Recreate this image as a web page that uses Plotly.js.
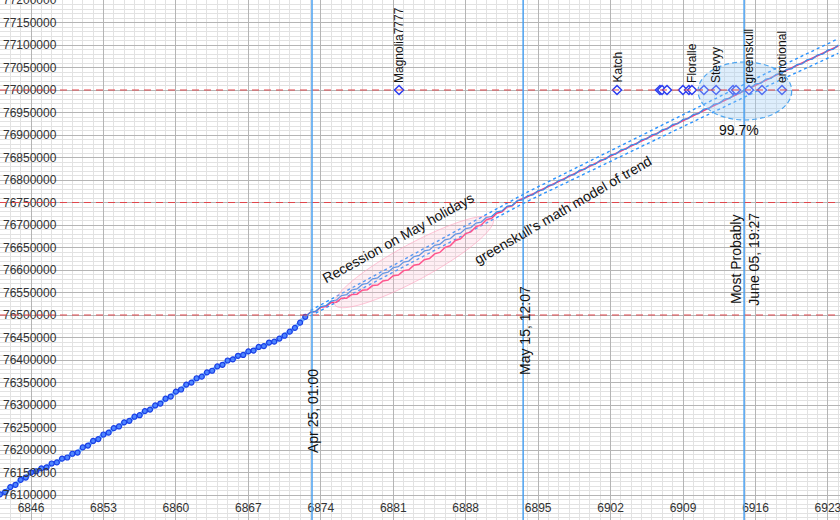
<!DOCTYPE html>
<html><head><meta charset="utf-8">
<script src="https://cdn.plot.ly/plotly-3.0.1.min.js"></script>
<style>html,body{margin:0;padding:0;background:#fff}#chart{width:840px;height:520px}</style>
</head><body><div id="chart"></div>
<script>
// ---------- data ----------
const xTicks = [6846, 6853, 6860, 6867, 6874, 6881, 6888, 6895, 6902, 6909, 6916, 6923];
const yTicks = [76100000, 76150000, 76200000, 76250000, 76300000, 76350000, 76400000, 76450000,
  76500000, 76550000, 76600000, 76650000, 76700000, 76750000, 76800000, 76850000, 76900000,
  76950000, 77000000, 77050000, 77100000, 77150000, 77200000];

const histX = [6843.0, 6843.5, 6844.0, 6844.5, 6845.0, 6845.5, 6846.0, 6846.5, 6847.0, 6847.5,
  6848.0, 6848.5, 6849.0, 6849.5, 6850.0, 6850.5, 6851.0, 6851.5, 6852.0, 6852.5,
  6853.0, 6853.5, 6854.0, 6854.5, 6855.0, 6855.5, 6856.0, 6856.5, 6857.0, 6857.5,
  6858.0, 6858.5, 6859.0, 6859.5, 6860.0, 6860.5, 6861.0, 6861.5, 6862.0, 6862.5,
  6863.0, 6863.5, 6864.0, 6864.5, 6865.0, 6865.5, 6866.0, 6866.5, 6867.0, 6867.5,
  6868.0, 6868.5, 6869.0, 6869.5, 6870.0, 6870.5, 6871.0, 6871.5, 6872.0, 6872.5];
const histY = [76101500, 76106600, 76117600, 76122700, 76133800, 76138800, 76149900, 76152800, 76159100, 76161500,
  76170000, 76172400, 76180800, 76183300, 76191700, 76194200, 76205800, 76209900, 76220100, 76224200,
  76234400, 76238500, 76248600, 76252300, 76261500, 76264800, 76274000, 76277300, 76286500, 76289800,
  76299000, 76303200, 76314000, 76318800, 76329600, 76334400, 76345300, 76349800, 76359400, 76363000,
  76372600, 76376100, 76385700, 76389300, 76398900, 76401400, 76409300, 76411200, 76419100, 76421000,
  76429000, 76430900, 76438800, 76440700, 76447500, 76454000, 76463000, 76471500, 76483000, 76496000];

const modelX = [6872.5, 6873, 6873.5, 6874, 6874.5, 6875, 6875.5, 6876, 6876.5, 6877, 6877.5,
  6878, 6878.5, 6879, 6879.5, 6880, 6880.5, 6881, 6881.5, 6882, 6882.5, 6883, 6883.5,
  6884, 6884.5, 6885, 6885.5, 6886, 6886.5, 6887, 6887.5, 6888, 6888.5, 6889, 6889.5,
  6890, 6890.5, 6891, 6891.5, 6892, 6892.5, 6893, 6893.5, 6894, 6894.5, 6895, 6895.5,
  6896, 6896.5, 6897, 6897.5, 6898, 6898.5, 6899, 6899.5, 6900, 6900.5, 6901, 6901.5,
  6902, 6902.5, 6903, 6903.5, 6904, 6904.5, 6905, 6905.5, 6906, 6906.5, 6907, 6907.5,
  6908, 6908.5, 6909, 6909.5, 6910, 6910.5, 6911, 6911.5, 6912, 6912.5, 6913, 6913.5,
  6914, 6914.5, 6915, 6915.5, 6916, 6916.5, 6917, 6917.5, 6918, 6918.5, 6919, 6919.5,
  6920, 6920.5, 6921, 6921.5, 6922, 6922.5, 6923, 6923.5, 6924];
const modelY = [76496000, 76506000, 76508200, 76518400, 76520600, 76530800, 76533000, 76543200, 76545400, 76555600, 76557800,
  76568000, 76570200, 76580400, 76582600, 76592800, 76595000, 76605200, 76607400, 76617600, 76619800, 76630000, 76632200,
  76642400, 76644600, 76654800, 76657000, 76667200, 76669400, 76679600, 76681800, 76692000, 76694200, 76704400, 76706600,
  76716800, 76719000, 76729200, 76731400, 76741600, 76743800, 76754000, 76755600, 76765300, 76767000, 76776600, 76778200,
  76787900, 76789500, 76799200, 76800800, 76810500, 76812100, 76821800, 76823400, 76833100, 76834700, 76844400, 76846000,
  76855700, 76857300, 76867000, 76868600, 76878300, 76879900, 76889600, 76891200, 76900900, 76902500, 76912200, 76913800,
  76923500, 76925100, 76934800, 76936400, 76946100, 76947700, 76957400, 76959000, 76968700, 76970300, 76980000, 76981600,
  76991300, 76992900, 77002600, 77004000, 77013400, 77014800, 77024200, 77025600, 77035000, 77036400, 77045800, 77047200,
  77056600, 77058000, 77067400, 77068800, 77078200, 77079600, 77089000, 77090400, 77099800];

const bandX = [6873, 6874, 6875, 6876, 6877, 6878, 6879, 6880, 6881, 6882, 6883, 6884, 6885, 6886, 6887, 6888,
  6889, 6890, 6891, 6892, 6893, 6894, 6895, 6896, 6897, 6898, 6899, 6900, 6901, 6902, 6903, 6904, 6905, 6906,
  6907, 6908, 6909, 6910, 6911, 6912, 6913, 6914, 6915, 6916, 6917, 6918, 6919, 6920, 6921, 6922, 6923, 6924];
const bandUpper = [76510000, 76522600, 76535200, 76547800, 76560400, 76573000, 76585600, 76598200, 76610800, 76623400,
  76636000, 76648600, 76661200, 76673800, 76686400, 76699000, 76711600, 76724200, 76736800, 76749400,
  76762000, 76773500, 76785000, 76796500, 76808000, 76819500, 76831000, 76842500, 76854000, 76865500,
  76877000, 76888500, 76900000, 76911500, 76923000, 76934500, 76946000, 76957500, 76969000, 76980500,
  76992000, 77003500, 77015000, 77026000, 77037000, 77048000, 77059000, 77070000, 77081000, 77092000, 77103000, 77114000];
const bandLower = [76498000, 76510200, 76522400, 76534600, 76546800, 76559000, 76571200, 76583400, 76595600, 76607800,
  76620000, 76632200, 76644400, 76656600, 76668800, 76681000, 76693200, 76705400, 76717600, 76729800,
  76742000, 76753100, 76764200, 76775300, 76786400, 76797500, 76808600, 76819700, 76830800, 76841900,
  76853000, 76864100, 76875200, 76886300, 76897400, 76908500, 76919600, 76930700, 76941800, 76952900,
  76964000, 76975100, 76986200, 76996800, 77007400, 77018000, 77028600, 77039200, 77049800, 77060400, 77071000, 77081600];

const actualX = [6872.5, 6873, 6873.5, 6874, 6874.5, 6875, 6875.5, 6876, 6876.5, 6877, 6877.5,
  6878, 6878.5, 6879, 6879.5, 6880, 6880.5, 6881, 6881.5, 6882, 6882.5, 6883, 6883.5,
  6884, 6884.5, 6885, 6885.5, 6886, 6886.5, 6887, 6887.5, 6888, 6888.5, 6889, 6889.5,
  6890, 6890.5, 6891, 6891.5, 6892, 6892.5, 6893,
  6894, 6895, 6896, 6897, 6898, 6899, 6900, 6901, 6902, 6903, 6904, 6905,
  6906, 6907, 6908, 6909, 6910, 6911, 6912, 6913, 6914, 6915, 6916, 6917, 6918, 6919, 6920, 6921, 6922, 6923, 6924];
const actualY = [76496000, 76506000, 76507700, 76517400, 76518600, 76527800, 76528500, 76537200, 76537400, 76545600, 76546300,
  76555000, 76556200, 76565400, 76566600, 76575800, 76577500, 76587200, 76588900, 76598600, 76600600, 76610500, 76612700,
  76622900, 76625400, 76635800, 76639000, 76650200, 76653900, 76665600, 76669300, 76681000, 76684700, 76696400, 76700100,
  76711800, 76715000, 76726200, 76729200, 76740100, 76742800, 76753500,
  76763300, 76774600, 76785900, 76797200, 76808500, 76819800, 76831100, 76842400, 76853700, 76865000, 76876300, 76887600,
  76898900, 76910200, 76921500, 76932800, 76944100, 76955400, 76966700, 76978000, 76989300, 77000600, 77011400, 77022200,
  77033000, 77043800, 77054600, 77065400, 77076200, 77087000, 77097800];

const targetValue = 77000000;
const guessX = [6881.56, 6902.62, 6906.77, 6906.97, 6907.45, 6908.99, 6909.57, 6909.86, 6911.02, 6912.19,
  6913.83, 6914.12, 6915.37, 6916.63, 6918.56];
const guessNames = ["Magnolia7777", "Katch", "", "", "", "", "", "Floralle", "", "Stevyy",
  "", "", "greenskull", "", "emotional"];

const refLevels = [76500000, 76750000, 77000000];
const eventX = [6873.15, 6893.55, 6914.9];
const eventLabels = ["Apr 25, 01:00", "May 15, 12:07", "Most Probably<br>June 05, 19:27"];

// ---------- layout geometry ----------
const xRange = [6843.005, 6924.165];
const yRange = [76044444, 77200000];
const W = 840, H = 520;
const pxPerX = W / (xRange[1] - xRange[0]);
const pxPerY = H / (yRange[1] - yRange[0]);

function ellipsePath(cx, cy, aPx, bPx, angDeg) {
  const th = angDeg * Math.PI / 180;
  let d = '';
  for (let i = 0; i <= 72; i++) {
    const t = i / 72 * 2 * Math.PI;
    const dx = aPx * Math.cos(th) * Math.cos(t) - bPx * Math.sin(th) * Math.sin(t);
    const dy = aPx * Math.sin(th) * Math.cos(t) + bPx * Math.cos(th) * Math.sin(t);
    const x = cx + dx / pxPerX, y = cy + dy / pxPerY;
    d += (i === 0 ? 'M' : 'L') + x + ',' + y;
  }
  return d + 'Z';
}

const traces = [
  {x: histX, y: histY, mode: 'lines', line: {color: '#7ab6ff', width: 4}, hoverinfo: 'skip'},
  {x: histX, y: histY, mode: 'markers',
   marker: {symbol: 'circle', size: 5, color: '#4f86ff', line: {color: '#1a3fe6', width: 1.2}}},
  {x: bandX, y: bandUpper, mode: 'lines', line: {color: '#2a93ff', width: 1.4, dash: 'dot'}},
  {x: bandX, y: bandLower, mode: 'lines', line: {color: '#2a93ff', width: 1.4, dash: 'dot'}},
  {x: actualX, y: actualY, mode: 'lines', line: {color: '#ff3a7c', width: 1.5}},
  {x: modelX, y: modelY, mode: 'lines', line: {color: '#3b8fe8', width: 1.3}},
  {x: guessX, y: guessX.map(() => targetValue), mode: 'markers',
   marker: {symbol: 'diamond', size: 7, color: '#ffffff', line: {color: '#2a3cf0', width: 1.5}}}
];

const shapes = [];
shapes.push({type: 'path', xref: 'x', yref: 'y', path: ellipsePath(6883.0, 76617800, 90, 18, 28.5),
  fillcolor: 'rgba(255,180,205,0.22)', line: {color: 'rgba(255,160,190,0.6)', width: 1}, layer: 'above'});
shapes.push({type: 'circle', xref: 'x', yref: 'y', x0: 6910.45, x1: 6919.5, y0: 76933300, y1: 77062200,
  fillcolor: 'rgba(160,205,245,0.35)', line: {color: '#4ea6f0', width: 1.2, dash: '5px,3px'}, layer: 'above'});
refLevels.forEach(v => shapes.push({type: 'line', xref: 'paper', x0: 0, x1: 1, yref: 'y', y0: v, y1: v,
  line: {color: '#e0474c', width: 1.2, dash: '7px,5px'}, layer: 'above'}));
eventX.forEach(v => shapes.push({type: 'line', yref: 'paper', y0: 0, y1: 1, xref: 'x', x0: v, x1: v,
  line: {color: '#4aa0f0', width: 1.5}, layer: 'above'}));

const txtFont = {family: 'Liberation Sans, Arial, sans-serif', size: 14, color: '#111'};
const annotations = [
  {x: 6873.25, y: 76286700, text: eventLabels[0], textangle: -90, showarrow: false, font: txtFont, xanchor: 'center', yanchor: 'middle'},
  {x: 6893.73, y: 76464500, text: eventLabels[1], textangle: -90, showarrow: false, font: txtFont, xanchor: 'center', yanchor: 'middle'},
  {x: 6914.95, y: 76624400, text: eventLabels[2], textangle: -90, showarrow: false, font: txtFont, xanchor: 'center', yanchor: 'middle'},
  {x: 6881.46, y: 76671100, text: 'Recession on May holidays', textangle: -29, showarrow: false, font: txtFont, xanchor: 'center', yanchor: 'middle'},
  {x: 6897.4, y: 76733300, text: "greenskull's math model of trend", textangle: -30, showarrow: false, font: txtFont, xanchor: 'center', yanchor: 'middle'},
  {x: 6914.4, y: 76911100, text: '99.7%', showarrow: false, font: txtFont, xanchor: 'center', yanchor: 'middle'}
];
guessX.forEach((gx, i) => {
  if (guessNames[i]) annotations.push({x: gx, y: targetValue, text: guessNames[i], textangle: -90, showarrow: false,
    font: {family: 'Liberation Sans, Arial, sans-serif', size: 12, color: '#111'}, xanchor: 'center', yanchor: 'bottom', yshift: 5});
});

const layout = {
  width: W, height: H, margin: {l: 0, r: 0, t: 0, b: 0},
  paper_bgcolor: '#ffffff', plot_bgcolor: '#ffffff', showlegend: false,
  font: {family: 'Liberation Sans, Arial, sans-serif', color: '#333'},
  xaxis: {range: xRange, tickmode: 'array', tickvals: xTicks, ticktext: xTicks.map(String),
    showgrid: true, gridcolor: '#b5b5b5', gridwidth: 1, zeroline: false, showline: false, ticks: '',
    minor: {tickmode: 'linear', tick0: 6846, dtick: 1, showgrid: true, gridcolor: '#e2e2e2', gridwidth: 1},
    anchor: 'free', position: 25 / 520, ticklabeloverflow: 'allow', ticklabelstandoff: 4,
    tickfont: {size: 12, color: '#333'}},
  yaxis: {range: yRange, tickmode: 'array', tickvals: yTicks, ticktext: yTicks.map(String),
    showgrid: true, gridcolor: '#b5b5b5', gridwidth: 1, zeroline: false, showline: false, ticks: '',
    minor: {tickmode: 'linear', tick0: 76100000, dtick: 10000, showgrid: true, gridcolor: '#e2e2e2', gridwidth: 1},
    ticklabelposition: 'inside', ticklabeloverflow: 'allow', tickfont: {size: 12, color: '#333'}},
  shapes: shapes, annotations: annotations
};

Plotly.newPlot('chart', traces, layout, {displayModeBar: false, staticPlot: true});
</script></body></html>
